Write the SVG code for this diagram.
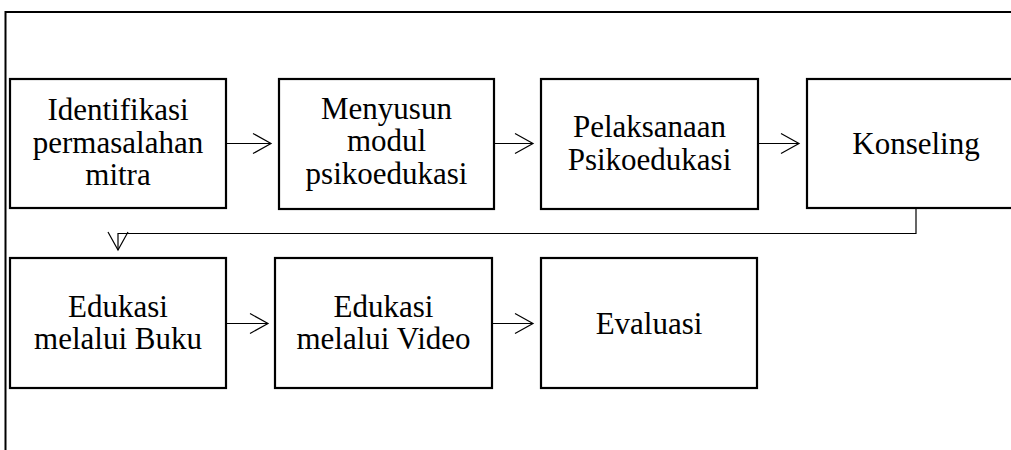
<svg xmlns="http://www.w3.org/2000/svg" width="1011" height="450" viewBox="0 0 1011 450">
<style>
.box{fill:#fff;stroke:#000;stroke-width:2.2}
.t{font-family:"Liberation Serif","Times New Roman",serif;font-size:31px;fill:#000;text-anchor:middle}
.c{fill:none;stroke:#000;stroke-width:1.2}
.frame{fill:none;stroke:#000;stroke-width:2}
</style>
<defs>
<marker id="ah" markerUnits="userSpaceOnUse" markerWidth="24" markerHeight="24" viewBox="-20 -12 22 24" refX="0" refY="0" orient="auto">
<path d="M-18,-10 L0,0 L-18,10" fill="none" stroke="#000" stroke-width="1.2"/>
</marker>
</defs>
<polyline class="frame" points="5.5,450 5.5,12 1011,12"/>
<g id="connectors">
<line class="c" x1="226" y1="143.5" x2="271" y2="143.5" marker-end="url(#ah)"/>
<line class="c" x1="494" y1="143.5" x2="533" y2="143.5" marker-end="url(#ah)"/>
<line class="c" x1="758" y1="143.5" x2="799" y2="143.5" marker-end="url(#ah)"/>
<polyline class="c" points="916,209 916,233.5 118,233.5 118,250" marker-end="url(#ah)"/>
<line class="c" x1="226" y1="323.5" x2="268" y2="323.5" marker-end="url(#ah)"/>
<line class="c" x1="492" y1="323.5" x2="533" y2="323.5" marker-end="url(#ah)"/>
</g>
<g id="n1"><rect class="box" x="10" y="79" width="216" height="129"/>
<text class="t" x="118" y="120">Identifikasi</text><text class="t" x="118" y="153">permasalahan</text><text class="t" x="118" y="185">mitra</text></g>
<g id="n2"><rect class="box" x="279" y="79" width="215" height="130"/>
<text class="t" x="386.5" y="119">Menyusun</text><text class="t" x="386.5" y="151">modul</text><text class="t" x="386.5" y="184">psikoedukasi</text></g>
<g id="n3"><rect class="box" x="541" y="79" width="217" height="130"/>
<text class="t" x="649.5" y="137">Pelaksanaan</text><text class="t" x="649.5" y="170">Psikoedukasi</text></g>
<g id="n4"><rect class="box" x="807" y="79" width="218" height="129"/>
<text class="t" x="916" y="154">Konseling</text></g>
<g id="n5"><rect class="box" x="10" y="258" width="216" height="130"/>
<text class="t" x="118" y="317">Edukasi</text><text class="t" x="118" y="349">melalui Buku</text></g>
<g id="n6"><rect class="box" x="275" y="258" width="217" height="130"/>
<text class="t" x="383.5" y="317">Edukasi</text><text class="t" x="383.5" y="349">melalui Video</text></g>
<g id="n7"><rect class="box" x="541" y="258" width="216" height="130"/>
<text class="t" x="649" y="334">Evaluasi</text></g>
</svg>
